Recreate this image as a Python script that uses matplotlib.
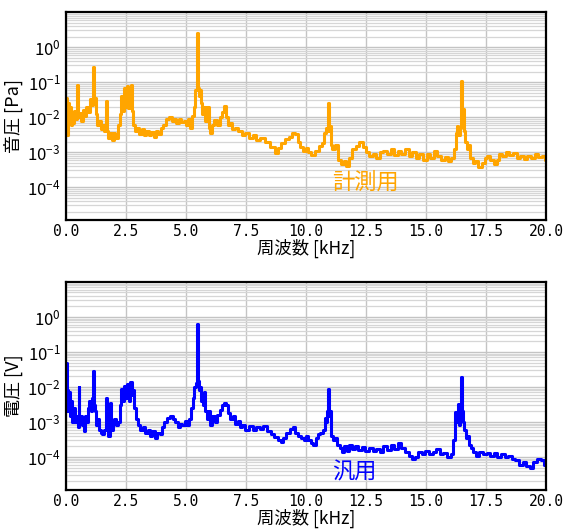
import numpy as np
import matplotlib
matplotlib.use('Agg')
import matplotlib.pyplot as plt
from matplotlib.ticker import LogLocator, NullFormatter, FormatStrFormatter

plt.rcParams['font.family'] = ['Noto Sans CJK JP', 'DejaVu Sans']

# 計測用マイク (音圧 [Pa])
freq_mic = [
    0.00, 0.03, 0.06, 0.10, 0.14, 0.18, 0.22, 0.27, 0.32, 0.38, 0.44, 0.50, 0.52, 0.58, 0.66, 0.72,
    0.80, 0.88, 0.95, 1.02, 1.08, 1.14, 1.16, 1.22, 1.28, 1.34, 1.40, 1.48, 1.55, 1.62, 1.69, 1.71,
    1.78, 1.86, 1.94, 2.02, 2.10, 2.20, 2.28, 2.34, 2.40, 2.46, 2.52, 2.58, 2.62, 2.68, 2.74, 2.78,
    2.84, 2.90, 3.00, 3.10, 3.20, 3.30, 3.40, 3.50, 3.60, 3.70, 3.80, 3.90, 4.00, 4.10, 4.25, 4.35,
    4.45, 4.55, 4.65, 4.75, 4.85, 4.95, 5.05, 5.15, 5.20, 5.28, 5.36, 5.42, 5.47, 5.50, 5.55, 5.60,
    5.64, 5.70, 5.76, 5.84, 5.93, 5.98, 6.05, 6.12, 6.25, 6.35, 6.45, 6.55, 6.63, 6.70, 6.78, 6.88,
    6.98, 7.10, 7.25, 7.40, 7.55, 7.70, 7.85, 8.00, 8.20, 8.40, 8.60, 8.78, 8.90, 9.05, 9.20, 9.35,
    9.50, 9.62, 9.72, 9.82, 9.95, 10.05, 10.15, 10.30, 10.45, 10.60, 10.72, 10.82, 10.88, 10.93, 10.96, 11.00,
    11.05, 11.15, 11.25, 11.40, 11.52, 11.62, 11.72, 11.85, 12.00, 12.15, 12.30, 12.42, 12.55, 12.70, 12.85, 13.00,
    13.15, 13.30, 13.45, 13.60, 13.75, 13.90, 14.05, 14.20, 14.35, 14.50, 14.65, 14.80, 14.95, 15.10, 15.25, 15.40,
    15.55, 15.70, 15.85, 16.00, 16.12, 16.20, 16.27, 16.32, 16.38, 16.44, 16.49, 16.52, 16.56, 16.60, 16.66, 16.72,
    16.80, 16.88, 17.00, 17.10, 17.25, 17.38, 17.50, 17.62, 17.75, 17.88, 18.00, 18.12, 18.25, 18.40, 18.55, 18.70,
    18.85, 19.00, 19.15, 19.30, 19.45, 19.60, 19.75, 19.90, 20.00,
]
pa_mic = [
    5e-3, 3.5e-2, 3e-3, 2.5e-2, 9e-3, 2.0e-2, 6e-3, 1.2e-2, 7e-3, 1.5e-2, 9e-3, 8.5e-2, 1.0e-2, 1.3e-2, 8e-3, 1.6e-2,
    1.1e-2, 2.0e-2, 1.4e-2, 3.2e-2, 2.2e-2, 2.7e-1, 2.5e-2, 3.5e-2, 1.2e-2, 6e-3, 8e-3, 4.5e-3, 6e-3, 4e-3, 2.9e-2, 4e-3,
    2.5e-3, 3.5e-3, 2.2e-3, 3.5e-3, 2.5e-3, 6e-3, 1.2e-2, 4e-2, 1.5e-2, 7e-2, 2e-2, 8e-2, 1.8e-2, 6e-2, 8.5e-2, 1.5e-2,
    6e-3, 4e-3, 5e-3, 3.2e-3, 4.5e-3, 3e-3, 4e-3, 3e-3, 3.8e-3, 2.8e-3, 4e-3, 3.2e-3, 5e-3, 6e-3, 9e-3, 1.0e-2,
    8e-3, 9e-3, 7e-3, 9e-3, 7.5e-3, 8e-3, 6e-3, 9e-3, 5e-3, 1.1e-2, 2.0e-2, 6e-2, 2.6, 7e-2, 4e-2, 6e-2,
    2.5e-2, 1.2e-2, 2.0e-2, 8e-3, 2.0e-2, 5e-3, 3.6e-3, 6e-3, 8.5e-3, 6e-3, 1.0e-2, 1.4e-2, 2.1e-2, 1.0e-2, 6e-3, 7e-3,
    4.5e-3, 5e-3, 4e-3, 3e-3, 3.5e-3, 2.6e-3, 3e-3, 2.3e-3, 2.5e-3, 2.0e-3, 1.4e-3, 9.5e-4, 1.3e-3, 1.8e-3, 2.4e-3, 2.8e-3,
    3.6e-3, 3.2e-3, 2.0e-3, 1.4e-3, 1.1e-3, 1.3e-3, 1.0e-3, 8.5e-4, 1.1e-3, 1.5e-3, 1.8e-3, 3.5e-3, 5e-3, 2.6e-2, 4e-3, 5.5e-3,
    1.6e-3, 1.2e-3, 1.6e-3, 6e-4, 4.5e-4, 5.5e-4, 4e-4, 7e-4, 1.2e-3, 1.5e-3, 1.9e-3, 1.4e-3, 1.0e-3, 8e-4, 9e-4, 7e-4,
    1.0e-3, 1.1e-3, 9e-4, 1.2e-3, 8.5e-4, 1.1e-3, 9e-4, 1.2e-3, 8e-4, 1.0e-3, 7e-4, 9e-4, 6e-4, 9e-4, 7e-4, 1.1e-3,
    8e-4, 6e-4, 7.5e-4, 5.5e-4, 7e-4, 1.2e-3, 3.5e-3, 5.5e-3, 3e-3, 5e-3, 1.1e-1, 6e-3, 1.7e-2, 4e-3, 2e-3, 1.2e-3,
    1.6e-3, 7e-4, 5e-4, 5.5e-4, 3.8e-4, 5e-4, 7e-4, 8e-4, 6e-4, 4.5e-4, 6e-4, 9e-4, 8e-4, 1.0e-3, 8.5e-4, 9.5e-4,
    7e-4, 8e-4, 6.5e-4, 8e-4, 7e-4, 9e-4, 7.5e-4, 8e-4, 6e-4,
]

# 汎用マイク (電圧 [V])
freq_gen = [
    0.00, 0.02, 0.04, 0.07, 0.10, 0.14, 0.18, 0.22, 0.28, 0.34, 0.40, 0.46, 0.52, 0.54, 0.57, 0.62,
    0.70, 0.76, 0.82, 0.88, 0.94, 1.00, 1.06, 1.10, 1.14, 1.17, 1.22, 1.28, 1.34, 1.40, 1.48, 1.56,
    1.62, 1.69, 1.72, 1.80, 1.86, 1.90, 1.98, 2.06, 2.14, 2.22, 2.28, 2.34, 2.40, 2.46, 2.52, 2.58,
    2.64, 2.70, 2.76, 2.82, 2.88, 2.95, 3.05, 3.15, 3.25, 3.35, 3.45, 3.55, 3.65, 3.75, 3.85, 3.95,
    4.05, 4.15, 4.30, 4.40, 4.50, 4.60, 4.70, 4.80, 4.90, 5.00, 5.10, 5.18, 5.25, 5.32, 5.38, 5.44,
    5.47, 5.50, 5.55, 5.60, 5.66, 5.72, 5.78, 5.84, 5.90, 5.98, 6.05, 6.15, 6.25, 6.35, 6.45, 6.55,
    6.65, 6.72, 6.80, 6.90, 7.00, 7.10, 7.20, 7.30, 7.40, 7.55, 7.70, 7.85, 8.00, 8.15, 8.30, 8.45,
    8.60, 8.75, 8.90, 9.00, 9.10, 9.25, 9.40, 9.50, 9.60, 9.72, 9.85, 9.95, 10.05, 10.15, 10.25, 10.35,
    10.45, 10.55, 10.65, 10.75, 10.80, 10.86, 10.90, 10.95, 10.98, 11.02, 11.08, 11.15, 11.25, 11.35, 11.45, 11.55,
    11.65, 11.75, 11.85, 11.95, 12.10, 12.25, 12.40, 12.55, 12.70, 12.85, 13.00, 13.15, 13.30, 13.45, 13.60, 13.75,
    13.90, 14.05, 14.20, 14.35, 14.50, 14.62, 14.75, 14.90, 15.05, 15.20, 15.35, 15.50, 15.65, 15.80, 15.95, 16.10,
    16.18, 16.25, 16.30, 16.35, 16.40, 16.44, 16.49, 16.52, 16.56, 16.62, 16.68, 16.75, 16.82, 16.90, 17.00, 17.15,
    17.30, 17.45, 17.60, 17.75, 17.90, 18.05, 18.20, 18.35, 18.50, 18.65, 18.80, 18.95, 19.10, 19.25, 19.40, 19.55,
    19.70, 19.85, 20.00,
]
volt_gen = [
    2e-3, 5e-2, 3e-3, 8e-3, 2e-3, 7e-3, 1.5e-3, 4e-3, 1.0e-3, 2.5e-3, 1.0e-3, 1.5e-3, 7e-4, 1.0e-2, 1.0e-3, 1.5e-3,
    8e-4, 5.5e-4, 1.5e-3, 1.0e-3, 2.5e-3, 4e-3, 2.0e-3, 5e-3, 2.9e-2, 3e-3, 2e-3, 8e-4, 1.2e-3, 6e-4, 5e-4, 4.5e-4,
    6e-4, 5e-3, 6e-4, 4e-4, 3.5e-3, 6e-4, 9e-4, 1.2e-3, 8e-4, 1.0e-3, 3e-3, 9e-3, 4e-3, 1.1e-2, 5e-3, 1.2e-2,
    4e-3, 1.4e-2, 6e-3, 8e-3, 2.5e-3, 1.2e-3, 8e-4, 6e-4, 7e-4, 5e-4, 6e-4, 4e-4, 5.5e-4, 3.5e-4, 5e-4, 4.5e-4,
    7e-4, 1.0e-3, 1.3e-3, 1.5e-3, 1.2e-3, 1.0e-3, 7e-4, 9e-4, 8e-4, 1.1e-3, 8e-4, 1.2e-3, 2.5e-3, 5e-3, 1.0e-2, 1.3e-2,
    6.2e-1, 1.5e-2, 8e-3, 1.0e-2, 4e-3, 3e-3, 7e-3, 2e-3, 1.2e-3, 2e-3, 8e-4, 1.5e-3, 1.0e-3, 1.6e-3, 2.2e-3, 3e-3,
    3.5e-3, 3e-3, 1.8e-3, 1.2e-3, 1.5e-3, 9e-4, 1.1e-3, 7e-4, 8e-4, 6e-4, 7.5e-4, 6e-4, 7e-4, 6.5e-4, 7.5e-4, 5.5e-4,
    4.5e-4, 3.8e-4, 3e-4, 2.7e-4, 3.5e-4, 5e-4, 6.5e-4, 7e-4, 5e-4, 4e-4, 3.5e-4, 3e-4, 4e-4, 3e-4, 2.5e-4, 2.2e-4,
    3.5e-4, 4.5e-4, 5e-4, 6e-4, 1.3e-3, 1.0e-3, 2e-3, 8.5e-3, 1.5e-3, 2e-3, 4e-4, 3e-4, 3.5e-4, 2.2e-4, 1.8e-4, 1.4e-4,
    2.0e-4, 1.5e-4, 2.2e-4, 1.7e-4, 2.0e-4, 1.6e-4, 1.9e-4, 1.5e-4, 1.8e-4, 1.5e-4, 1.7e-4, 1.4e-4, 2.0e-4, 1.6e-4, 2.2e-4, 1.7e-4,
    2.5e-4, 1.8e-4, 1.4e-4, 1.1e-4, 9e-5, 1.0e-4, 1.4e-4, 1.2e-4, 1.5e-4, 1.2e-4, 1.4e-4, 1.7e-4, 1.2e-4, 1.3e-4, 1.0e-4, 1.2e-4,
    3e-4, 1.9e-3, 1e-3, 3.2e-3, 8e-4, 1.2e-3, 1.9e-2, 2e-3, 1.0e-3, 6e-4, 3.5e-4, 4e-4, 2.2e-4, 1.8e-4, 1.4e-4, 1.1e-4,
    1.4e-4, 1.2e-4, 1.3e-4, 1.1e-4, 1.3e-4, 1.0e-4, 1.2e-4, 1.0e-4, 1.1e-4, 9e-5, 8e-5, 6e-5, 7e-5, 5.5e-5, 5e-5, 7e-5,
    9e-5, 8e-5, 6e-5,
]

x_ticks = [0.0, 2.5, 5.0, 7.5, 10.0, 12.5, 15.0, 17.5, 20.0]
y_ticks = [1e-4, 1e-3, 1e-2, 1e-1, 1e0]

fig = plt.figure(figsize=(5.64, 5.29), dpi=100)
ax1 = fig.add_axes([0.117, 0.584, 0.851, 0.393])
ax2 = fig.add_axes([0.117, 0.074, 0.851, 0.393])


def setup(ax, ylabel):
    ax.set_yscale('log')
    ax.set_xlim(0, 20)
    ax.set_ylim(1.15e-5, 1e1)
    ax.set_xticks(x_ticks)
    ax.xaxis.set_major_formatter(FormatStrFormatter('%.1f'))
    ax.set_yticks(y_ticks)
    ax.yaxis.set_minor_locator(LogLocator(base=10, subs=np.arange(2, 10), numticks=100))
    ax.yaxis.set_minor_formatter(NullFormatter())
    ax.grid(True, which='major', color='#c4c4c4', lw=1.0)
    ax.grid(True, which='minor', axis='y', color='#d6d6d6', lw=0.9)
    ax.set_axisbelow(True)
    ax.tick_params(which='both', direction='in', length=0)
    ax.tick_params(axis='y', labelsize=12, pad=4)
    ax.tick_params(axis='x', labelsize=10.5, pad=3)
    for lab in ax.get_xticklabels():
        lab.set_family('DejaVu Sans Mono')
    for s in ax.spines.values():
        s.set_linewidth(1.6)
    ax.set_xlabel('周波数 [kHz]', fontsize=12.5, labelpad=0)
    ax.set_ylabel(ylabel, fontsize=13, labelpad=3)


# FFT bins drawn as steps
ax1.plot(freq_mic, pa_mic, color='orange', lw=2.2, drawstyle='steps-mid')
setup(ax1, '音圧 [Pa]')
ax1.text(0.554, 0.18, '計測用', transform=ax1.transAxes, color='orange',
         fontsize=16, va='center', ha='left')

ax2.plot(freq_gen, volt_gen, color='blue', lw=2.2, drawstyle='steps-mid')
setup(ax2, '電圧 [V]')
ax2.text(0.554, 0.088, '汎用', transform=ax2.transAxes, color='blue',
         fontsize=16, va='center', ha='left')

fig.savefig('out.png', dpi=100)
